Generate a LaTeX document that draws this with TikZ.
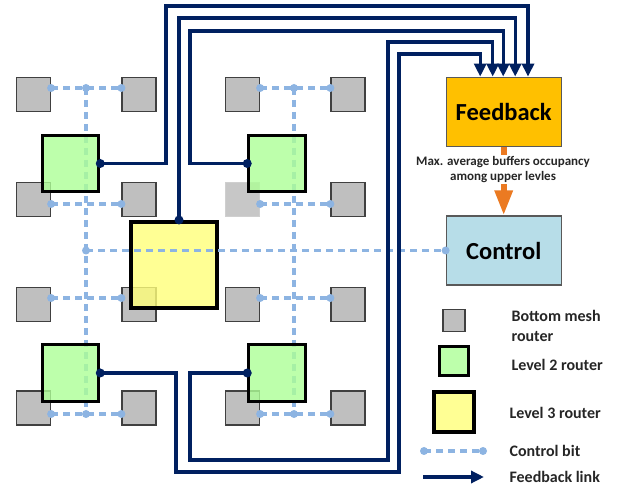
\documentclass[tikz,border=0pt]{standalone}
\usepackage{fontspec}
\setmainfont{Carlito}
\usetikzlibrary{arrows.meta}

\definecolor{navy}{HTML}{002060}
\definecolor{cbit}{HTML}{8DB4E2}
\definecolor{meshfill}{HTML}{BFBFBF}
\definecolor{meshline}{HTML}{404040}
\definecolor{lvtwofill}{HTML}{ADFF96}
\definecolor{lvthreefill}{HTML}{FFFF7A}
\definecolor{fbfill}{HTML}{FFC000}
\definecolor{ctlfill}{HTML}{B7DDE8}
\definecolor{boxline}{HTML}{595959}
\definecolor{arrorange}{HTML}{EB7A22}
\definecolor{txt}{HTML}{262626}

\begin{document}
\begin{tikzpicture}[x=1pt,y=-1pt,
  mesh/.style={draw=meshline, fill=meshfill, line width=1.2pt, minimum size=34pt, inner sep=0pt},
  lvtwo/.style={draw=black, line width=3pt, fill=lvtwofill, fill opacity=0.8, minimum size=56.5pt, inner sep=0pt},
  lvthree/.style={draw=black, line width=4pt, fill=lvthreefill, fill opacity=0.8, minimum size=86pt, inner sep=0pt},
  unitbox/.style={draw=boxline, line width=1.2pt, minimum width=115pt, minimum height=69pt, inner sep=0pt,
    text=black, font=\bfseries\fontsize{24.5}{28}\selectfont},
  cbitline/.style={draw=cbit, line width=3.2pt, dash pattern=on 7pt off 5pt},
  cdot/.style={circle, fill=cbit, inner sep=0pt, minimum size=8pt},
  fblink/.style={draw=navy, line width=3.4pt, -{Triangle[width=12pt,length=13pt]}},
  fbdot/.style={circle, fill=navy, inner sep=0pt, minimum size=9pt},
  legtext/.style={anchor=west, align=left, text=txt, font=\bfseries\fontsize{16}{20}\selectfont},
]
\useasboundingbox[fill=white] (0,0) rectangle (619,486);

% bottom mesh routers: 4 x 4 grid
\foreach \r/\y in {1/94.5,2/199.5,3/304.5,4/408}
  \foreach \c/\x in {1/33.5,2/139,3/242.5,4/348}
    {\node[mesh] (m\r\c) at (\x,\y) {};}
% this one is partly hidden and drawn faded
\node[mesh, fill=white, draw=white] at (m23) {};
\node[mesh, fill=meshfill!88!white, draw=meshline!25!white] (m23) at (242.5,199.5) {};

% rows and columns of the control-bit wiring
\coordinate (r1) at (0,88);
\coordinate (r2) at (0,204);
\coordinate (r3) at (0,298);
\coordinate (r4) at (0,414);
\coordinate (vL) at (86,0);
\coordinate (vR) at (294,0);

% control bit lines
\foreach \r in {1,2,3,4}{
  \draw[cbitline] (m\r1.east |- r\r) -- (m\r2.west |- r\r);
  \draw[cbitline] (m\r3.east |- r\r) -- (m\r4.west |- r\r);
}
\draw[cbitline] (vL |- r1) -- (vL |- r4);
\draw[cbitline] (vR |- r1) -- (vR |- r4);

% level 2 and level 3 routers
\node[lvtwo] (gA) at (70.5,163.5) {};
\node[lvtwo] (gB) at (277,163.5) {};
\node[lvtwo] (gC) at (70.5,373) {};
\node[lvtwo] (gD) at (277,373) {};
\node[lvthree] (yel) at (174,265) {};

% feedback and control units
\node[unitbox, fill=fbfill] (fbk) at (503.7,111.7) {Feedback};
\node[unitbox, fill=ctlfill] (ctl) at (503.7,250.5) {Control};

% control bit to the control unit
\draw[cbitline] (vL |- ctl.west) -- (ctl.west);

% dots of the control bit wiring
\foreach \r in {1,2,3,4}{
  \node[cdot] at (m\r1.east |- r\r) {};
  \node[cdot] at (m\r2.west |- r\r) {};
  \node[cdot] at (m\r3.east |- r\r) {};
  \node[cdot] at (m\r4.west |- r\r) {};
}
\node[cdot] at (vL |- r1) {};
\node[cdot] at (vR |- r1) {};
\node[cdot] at (vL |- r4) {};
\node[cdot] at (vR |- r4) {};
\node[cdot] at (vL |- ctl.west) {};
\node[cdot] at (ctl.west) {};

% feedback links
\draw[fblink] (gA.east) -| (166,6) -| ([xshift=24.3pt]fbk.north);
\draw[fblink] ([xshift=5pt]yel.north) -- ++(0,-202) -| ([xshift=11.5pt]fbk.north);
\draw[fblink] (gB.west) -| (190,31) -| ([xshift=-0.5pt]fbk.north);
\draw[fblink] (gD.west) -| (190,460) -| (388,42) -| ([xshift=-11pt]fbk.north);
\draw[fblink] (gC.east) -| (176,472) -| (399,54) -| ([xshift=-23.5pt]fbk.north);
\node[fbdot] at (gA.east) {};
\node[fbdot] at ([xshift=5pt]yel.north) {};
\node[fbdot] at (gB.west) {};
\node[fbdot] at (gC.east) {};
\node[fbdot] at (gD.west) {};

% feedback to control
\draw[arrorange, line width=6pt, -{Triangle[width=17pt,length=25pt]}] (fbk.south) -- (ctl.north);
\node[fill=white, inner sep=1.5pt, align=center, text=txt,
  font=\bfseries\fontsize{13}{15}\selectfont] (note) at (503,169.5)
  {Max. average buffers occupancy\\among upper levles};

% legend
\node[mesh, minimum size=22pt] (lg1) at (454,320.5) {};
\node[lvtwo, minimum size=29pt] (lg2) at (454,361.5) {};
\node[lvthree, minimum size=40pt] (lg3) at (454,412.5) {};
\coordinate (lc1) at (424,451);
\coordinate (lc2) at (483,451);
\draw[cbitline] (lc1) -- (lc2);
\node[cdot] at (lc1) {};
\node[cdot] at (lc2) {};
\coordinate (lf1) at (423,477);
\coordinate (lf2) at (484,477);
\draw[fblink] (lf1) -- (lf2);

\node[legtext] (t1) at (508,325.5) {Bottom mesh\\router};
\node[legtext] (t2) at (508,365) {Level 2 router};
\node[legtext] (t3) at (506,413) {Level 3 router};
\node[legtext] (t4) at (506,451) {Control bit};
\node[legtext] (t5) at (506,477) {Feedback link};
\end{tikzpicture}
\end{document}
